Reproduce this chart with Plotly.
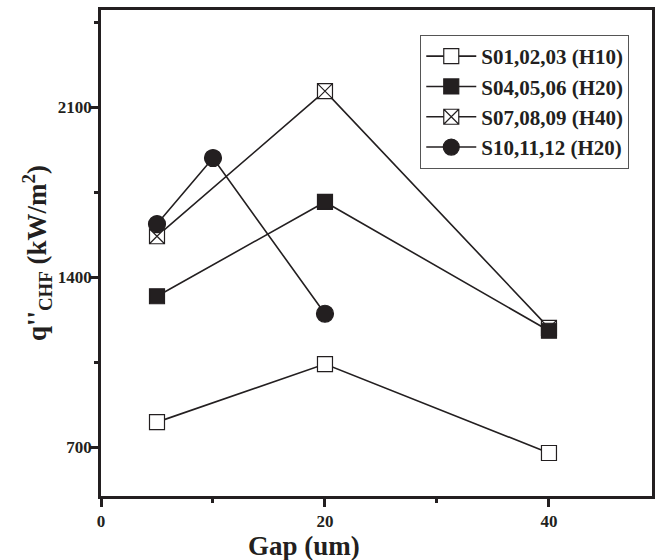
import plotly.graph_objects as go

gap = [5, 20, 40]
gap_s10 = [5, 10, 20]
s01 = [804, 1043, 677]
s04 = [1322, 1710, 1180]
s07 = [1569, 2166, 1192]
s10 = [1619, 1891, 1250]

names = ["S01,02,03 (H10)", "S04,05,06 (H20)", "S07,08,09 (H40)", "S10,11,12 (H20)"]
x_ticks = [0, 20, 40]
y_ticks = [700, 1400, 2100]

FONT = "Liberation Serif"
INK = "#231f20"

fig = go.Figure()

def add(x, y, name, symbol, fill, size, rank):
    fig.add_trace(go.Scatter(
        x=x, y=y, name="<b>" + name + "</b>", mode="lines+markers",
        line=dict(color=INK, width=1.6),
        marker=dict(symbol=symbol, size=size, color=fill,
                    line=dict(color=INK, width=1.2)),
        legendrank=rank, legendgroup=name,
    ))

add(gap, s01, names[0], "square", "white", 15, 1)
add(gap, s07, names[2], "square-x", "white", 15, 3)
add(gap, s04, names[1], "square", INK, 15, 2)
add(gap_s10, s10, names[3], "circle", INK, 17, 4)

axis_common = dict(
    showline=True, linecolor=INK, linewidth=2.5, mirror=True,
    showgrid=False, zeroline=False,
    ticks="outside", tickwidth=2.5, ticklen=8, tickcolor=INK,
    tickfont=dict(family=FONT, size=17, color=INK),
)

fig.update_xaxes(
    range=[0, 49.2], tickvals=x_ticks, ticktext=["<b>%d</b>" % v for v in x_ticks],
    minor=dict(tickvals=[10, 30], ticks="outside", ticklen=4, tickwidth=2.5, tickcolor=INK),
    **axis_common,
)
fig.update_yaxes(
    range=[500, 2500], tickvals=y_ticks, ticktext=["<b>%d</b>" % v for v in y_ticks],
    minor=dict(tickvals=[1050, 1750, 2450], ticks="outside", ticklen=4, tickwidth=2.5, tickcolor=INK),
    title=dict(text="<b>q''<sub>CHF</sub> (kW/m<sup>2</sup>)</b>",
               font=dict(family=FONT, size=27, color=INK), standoff=4),
    ticklabelstandoff=-5,
    **axis_common,
)

fig.add_annotation(
    text="<b>Gap (um)</b>", x=(305 - 101) / 554, xref="paper",
    y=-(546 - 496) / 486, yref="paper", xanchor="center", yanchor="middle",
    showarrow=False, font=dict(family=FONT, size=27, color=INK),
)

fig.update_layout(
    width=655, height=560,
    margin=dict(l=101, r=0, t=10, b=64),
    paper_bgcolor="white", plot_bgcolor="white",
    showlegend=True,
    legend=dict(
        x=(422 - 101) / 554, y=(496 - 35) / 486, xanchor="left", yanchor="top",
        bgcolor="white", bordercolor="#555555", borderwidth=1,
        font=dict(family=FONT, size=21, color=INK),
        tracegroupgap=0, itemwidth=50,
    ),
)

fig.write_html("out.html")
